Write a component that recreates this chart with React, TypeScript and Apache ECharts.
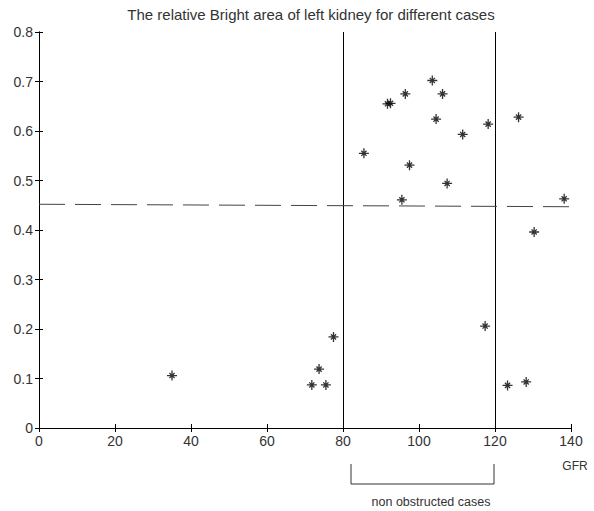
import React, { useEffect, useRef } from "react";
import * as echarts from "echarts";

const gfr = [35, 71.8, 73.7, 75.5, 77.5, 85.5, 91.7, 92.5, 96.4, 97.5, 95.5, 103.5, 104.5, 106.2, 107.4, 111.5, 117.4, 118.2, 123.3, 126.2, 128.2, 130.3, 138.2];
const area = [0.106, 0.087, 0.119, 0.087, 0.184, 0.555, 0.655, 0.656, 0.675, 0.531, 0.461, 0.702, 0.624, 0.675, 0.494, 0.593, 0.206, 0.614, 0.086, 0.628, 0.093, 0.396, 0.463];
const boundaries = [80, 120];
const threshold = [0.452, 0.447];
const xTicks = [0, 20, 40, 60, 80, 100, 120, 140];
const yTicks = [0, 0.1, 0.2, 0.3, 0.4, 0.5, 0.6, 0.7, 0.8];

const FONT = "'Liberation Sans', Arial, sans-serif";

export default function App() {
  const ref = useRef<HTMLDivElement>(null);
  useEffect(() => {
    if (!ref.current) return;
    const chart = echarts.init(ref.current, null, { renderer: "svg" });
    const axisLine = { show: true, lineStyle: { color: "#000", width: 1 } };
    const tick = { show: true, inside: true, length: 4, lineStyle: { color: "#000" } };
    chart.setOption({
      animation: false,
      backgroundColor: "#fff",
      title: {
        text: "The relative Bright area of left kidney for different cases",
        left: 306,
        textAlign: "center",
        top: 2,
        textStyle: { fontFamily: FONT, fontSize: 15, fontWeight: "normal", color: "#333" },
      },
      grid: { left: 39, right: 23, top: 32, bottom: 83 },
      xAxis: [
        {
          type: "value",
          min: xTicks[0],
          max: xTicks[xTicks.length - 1],
          interval: 20,
          axisLine,
          axisTick: tick,
          splitLine: { show: false },
          axisLabel: { fontFamily: FONT, fontSize: 14, color: "#333", margin: 6 },
        },
        {
          type: "value",
          position: "top",
          min: xTicks[0],
          max: xTicks[xTicks.length - 1],
          interval: 20,
          axisLine,
          axisTick: tick,
          splitLine: { show: false },
          axisLabel: { show: false },
        },
      ],
      yAxis: [
        {
          type: "value",
          min: yTicks[0],
          max: yTicks[yTicks.length - 1],
          interval: 0.1,
          axisLine,
          axisTick: tick,
          splitLine: { show: false },
          axisLabel: { fontFamily: FONT, fontSize: 14, color: "#333", margin: 6 },
        },
        {
          type: "value",
          position: "right",
          min: yTicks[0],
          max: yTicks[yTicks.length - 1],
          interval: 0.1,
          axisLine,
          axisTick: tick,
          splitLine: { show: false },
          axisLabel: { show: false },
        },
      ],
      series: [
        {
          type: "scatter",
          data: gfr.map((g, i) => [g, area[i]]),
          symbol: "path://M5 0V10M0 5H10M2.4 2.4L7.6 7.6M2.4 7.6L7.6 2.4",
          symbolSize: 10,
          itemStyle: { color: "none", borderColor: "#000", borderWidth: 1.3 },
          markLine: {
            silent: true,
            symbol: "none",
            label: { show: false },
            data: [
              ...boundaries.map((b) => ({ xAxis: b, lineStyle: { color: "#000", width: 1, type: "solid" } })),
              [
                { coord: [xTicks[0], threshold[0]] },
                {
                  coord: [xTicks[xTicks.length - 1], threshold[1]],
                  lineStyle: { color: "#444", width: 1, type: [26, 10] },
                },
              ],
            ],
          },
        },
      ],
      graphic: [
        {
          type: "text",
          x: 575,
          y: 466,
          style: { text: "GFR", fontFamily: FONT, fontSize: 12, fill: "#333", align: "center", verticalAlign: "middle" },
        },
        {
          type: "polyline",
          shape: { points: [[351, 464], [351, 484], [494, 484], [494, 464]] },
          style: { stroke: "#333", lineWidth: 1, fill: "none" },
        },
        {
          type: "text",
          x: 431,
          y: 502,
          style: { text: "non obstructed cases", fontFamily: FONT, fontSize: 12.5, fill: "#333", align: "center", verticalAlign: "middle" },
        },
      ],
    });
    return () => chart.dispose();
  }, []);
  return <div ref={ref} style={{ position: "fixed", left: 0, top: 0, width: 594, height: 511 }} />;
}
